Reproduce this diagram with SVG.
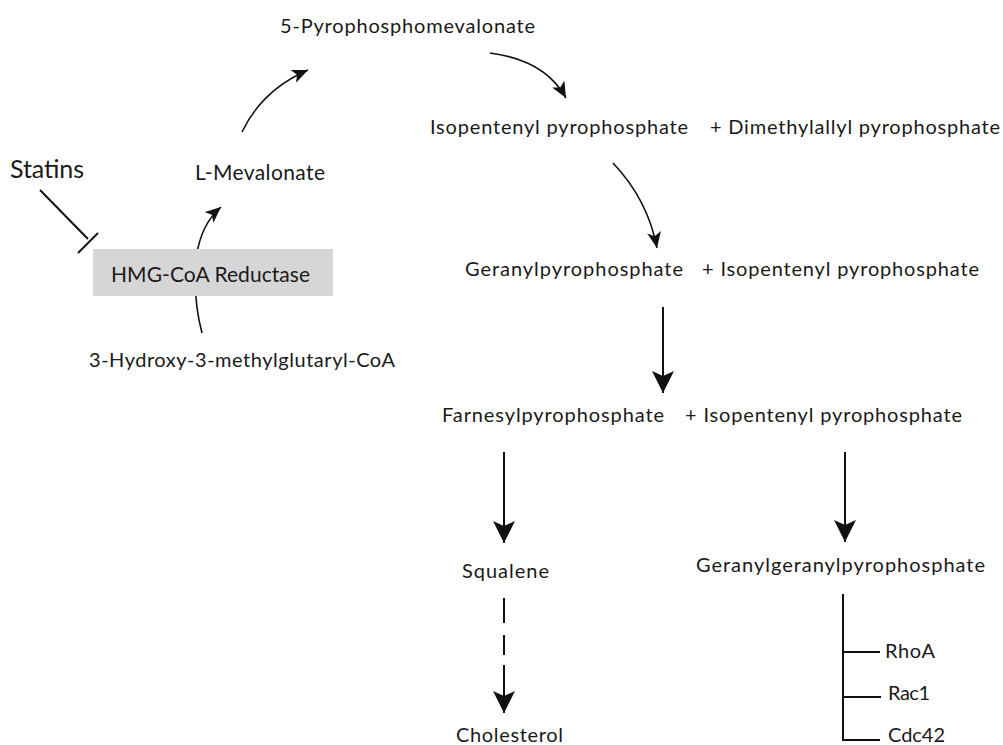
<svg xmlns="http://www.w3.org/2000/svg" width="1003" height="745" viewBox="0 0 1003 745">
<style>
text{font-family:Lato,"Open Sans","Liberation Sans",sans-serif;fill:#1a1a1a;font-size:20px}
.big{font-size:21px}
.stat{font-size:25px}
.ln{fill:none;stroke:#111;stroke-width:2}
.cv{fill:none;stroke:#111;stroke-width:1.6}
</style>
<defs>
<marker id="ah" markerUnits="userSpaceOnUse" markerWidth="22" markerHeight="22" viewBox="0 0 22 22" refX="22" refY="11" orient="auto">
<path d="M0,0 L22,11 L0,22 L5,11 Z" fill="#111"/>
</marker>
<marker id="ahs" markerUnits="userSpaceOnUse" markerWidth="16" markerHeight="14" viewBox="0 0 16 14" refX="16" refY="7" orient="auto">
<path d="M0,0 L16,7 L0,14 L4,7 Z" fill="#111"/>
</marker>
</defs>
<g id="connectors">
<path class="cv" d="M202,333 Q193,300 196,260 Q200,225 221,207" marker-end="url(#ahs)"/>
<path class="cv" d="M242,132 Q262,90 308,70" marker-end="url(#ahs)"/>
<path class="cv" d="M490,53 Q545,60 566,98" marker-end="url(#ahs)"/>
<path class="cv" d="M613,163 Q648,200 657,248" marker-end="url(#ahs)"/>
<line class="ln" x1="663" y1="307" x2="663" y2="393" marker-end="url(#ah)"/>
<line class="ln" x1="504" y1="452" x2="504" y2="543" marker-end="url(#ah)"/>
<line class="ln" x1="845" y1="452" x2="845" y2="542" marker-end="url(#ah)"/>
<line class="ln" x1="504" y1="598" x2="504" y2="713" stroke-dasharray="25 12 20 10 200" marker-end="url(#ah)"/>
<path class="ln" d="M40,190 L88,239 M78,253 L98,233" stroke-width="2.5"/>
<path class="ln" d="M843,594 L843,741 M843,652 L880,652 M843,697 L881,697 M843,740 L880,740"/>
</g>
<g id="statins"><text class="stat" x="10" y="178" textLength="74" lengthAdjust="spacing">Statins</text></g>
<g id="hmgcoa-reductase">
<rect x="93" y="249" width="240" height="47" fill="#d6d6d6"/>
<text class="big" x="111" y="282" textLength="199" lengthAdjust="spacing">HMG-CoA Reductase</text>
</g>
<g id="hmg-coa"><text x="89" y="367" textLength="306" lengthAdjust="spacing">3-Hydroxy-3-methylglutaryl-CoA</text></g>
<g id="mevalonate"><text class="big" x="195" y="180" textLength="130" lengthAdjust="spacing">L-Mevalonate</text></g>
<g id="pyrophosphomevalonate"><text x="280" y="33" textLength="255" lengthAdjust="spacing">5-Pyrophosphomevalonate</text></g>
<g id="ipp">
<text x="430" y="134" textLength="258" lengthAdjust="spacing">Isopentenyl pyrophosphate</text>
<text x="710" y="134" textLength="290" lengthAdjust="spacing">+ Dimethylallyl pyrophosphate</text>
</g>
<g id="gpp">
<text x="465" y="276" textLength="218" lengthAdjust="spacing">Geranylpyrophosphate</text>
<text x="702" y="276" textLength="277" lengthAdjust="spacing">+ Isopentenyl pyrophosphate</text>
</g>
<g id="fpp">
<text x="442" y="422" textLength="222" lengthAdjust="spacing">Farnesylpyrophosphate</text>
<text x="685" y="422" textLength="277" lengthAdjust="spacing">+ Isopentenyl pyrophosphate</text>
</g>
<g id="squalene"><text x="462" y="578" textLength="87" lengthAdjust="spacing">Squalene</text></g>
<g id="cholesterol"><text x="456" y="742" textLength="107" lengthAdjust="spacing">Cholesterol</text></g>
<g id="ggpp"><text x="696" y="572" textLength="289" lengthAdjust="spacing">Geranylgeranylpyrophosphate</text></g>
<g id="rhoa"><text x="885" y="658" textLength="50" lengthAdjust="spacing">RhoA</text></g>
<g id="rac1"><text x="888" y="700" textLength="42" lengthAdjust="spacing">Rac1</text></g>
<g id="cdc42"><text x="888" y="742" textLength="57" lengthAdjust="spacing">Cdc42</text></g>
</svg>
